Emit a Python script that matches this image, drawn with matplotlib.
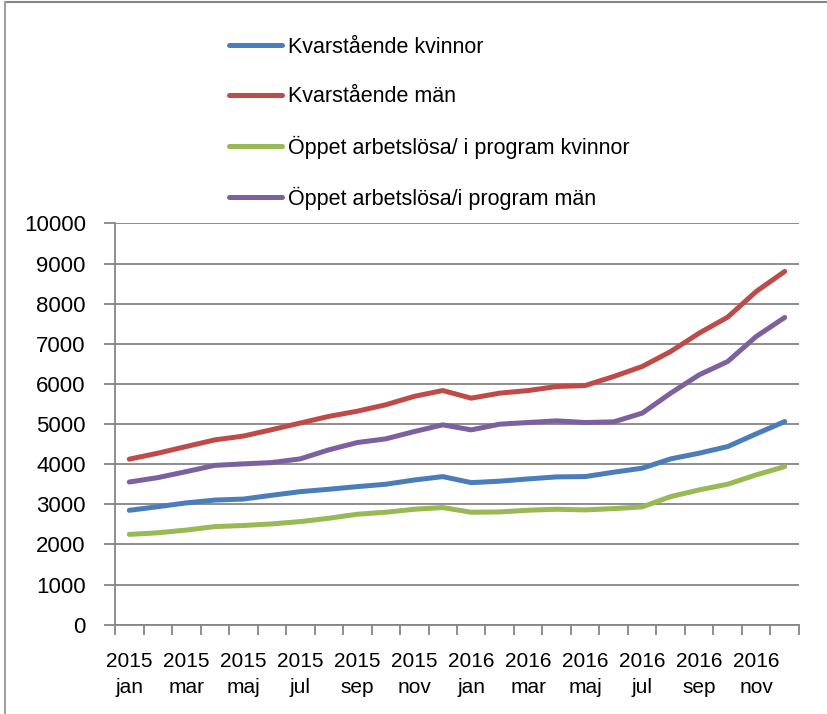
import matplotlib
matplotlib.use("Agg")
import matplotlib.pyplot as plt
from matplotlib.lines import Line2D

plt.rcParams['font.family'] = ['Liberation Sans', 'DejaVu Sans']

# månader jan 2015 - dec 2016
months = ['jan', 'feb', 'mar', 'apr', 'maj', 'jun', 'jul', 'aug', 'sep', 'okt', 'nov', 'dec']
years = ['2015', '2016']
labels = [f'{y}\n{m}' for y in years for m in months]

kvar_kvinnor = [2850, 2940, 3035, 3105, 3130, 3225, 3315, 3375, 3440, 3500, 3605, 3690,
                3540, 3576, 3633, 3683, 3691, 3800, 3900, 4132, 4274, 4439, 4756, 5062]
kvar_man = [4125, 4273, 4440, 4605, 4700, 4860, 5025, 5190, 5320, 5480, 5690, 5835,
            5645, 5770, 5835, 5935, 5960, 6185, 6434, 6808, 7266, 7665, 8304, 8803]
oppet_kvinnor = [2250, 2290, 2358, 2444, 2472, 2511, 2569, 2652, 2752, 2802, 2877, 2918,
                 2802, 2810, 2852, 2877, 2860, 2893, 2935, 3192, 3359, 3501, 3733, 3940]
oppet_man = [3555, 3665, 3815, 3970, 4007, 4040, 4132, 4357, 4539, 4631, 4813, 4980,
             4855, 4997, 5038, 5080, 5038, 5055, 5272, 5770, 6227, 6559, 7182, 7656]

series = [
    ('Kvarstående kvinnor', kvar_kvinnor, '#4A7EBB'),
    ('Kvarstående män', kvar_man, '#BE4B48'),
    ('Öppet arbetslösa/ i program kvinnor', oppet_kvinnor, '#98B954'),
    ('Öppet arbetslösa/i program män', oppet_man, '#7D60A0'),
]

fig = plt.figure(figsize=(8.27, 7.14), dpi=100)
ax = fig.add_axes([0.1391, 0.1251, 0.8270, 0.5620])

x = list(range(len(labels)))
for name, vals, col in series:
    ax.plot(x, vals, color=col, lw=3.6, solid_capstyle='round', solid_joinstyle='round', label=name)

ax.set_xlim(-0.5, len(labels) - 0.5)
ax.set_ylim(0, 10000)
ax.set_yticks(range(0, 10001, 1000))
ax.yaxis.grid(True, color='#868686', lw=1.3)
ax.set_axisbelow(True)

ax.set_xticks(x[::2])
ax.set_xticklabels(labels[::2], linespacing=1.45)
ax.set_xticks([i - 0.5 for i in range(len(labels) + 1)], minor=True)
ax.tick_params(axis='x', which='major', length=0, pad=20, labelsize=15)
ax.tick_params(axis='x', which='minor', length=7, width=1.3, color='#868686', direction='out')
ax.tick_params(axis='y', length=8, width=1.3, color='#868686', pad=13, labelsize=16)

for s in ['top', 'right']:
    ax.spines[s].set_visible(False)
for s in ['left', 'bottom']:
    ax.spines[s].set_color('#868686')
    ax.spines[s].set_linewidth(1.3)

handles = [Line2D([], [], color=c, lw=3.6, solid_capstyle='round') for _, _, c in series]
fig.legend(handles, [s[0] for s in series], loc='upper left',
           bbox_to_anchor=(229 / 827, 1 - 37 / 714), frameon=False,
           fontsize=15.5, handlelength=2.45, handletextpad=0.28,
           labelspacing=1.31, borderpad=0, borderaxespad=0)

# ram runt diagrammet
fig.add_artist(Line2D([5 / 827, 1], [1 - 1.5 / 714, 1 - 1.5 / 714], color='#868686', lw=1.5))
fig.add_artist(Line2D([5 / 827, 5 / 827], [0, 1 - 1.5 / 714], color='#a0a0a0', lw=1.5))

plt.savefig('out.png', dpi=100)
plt.close()
